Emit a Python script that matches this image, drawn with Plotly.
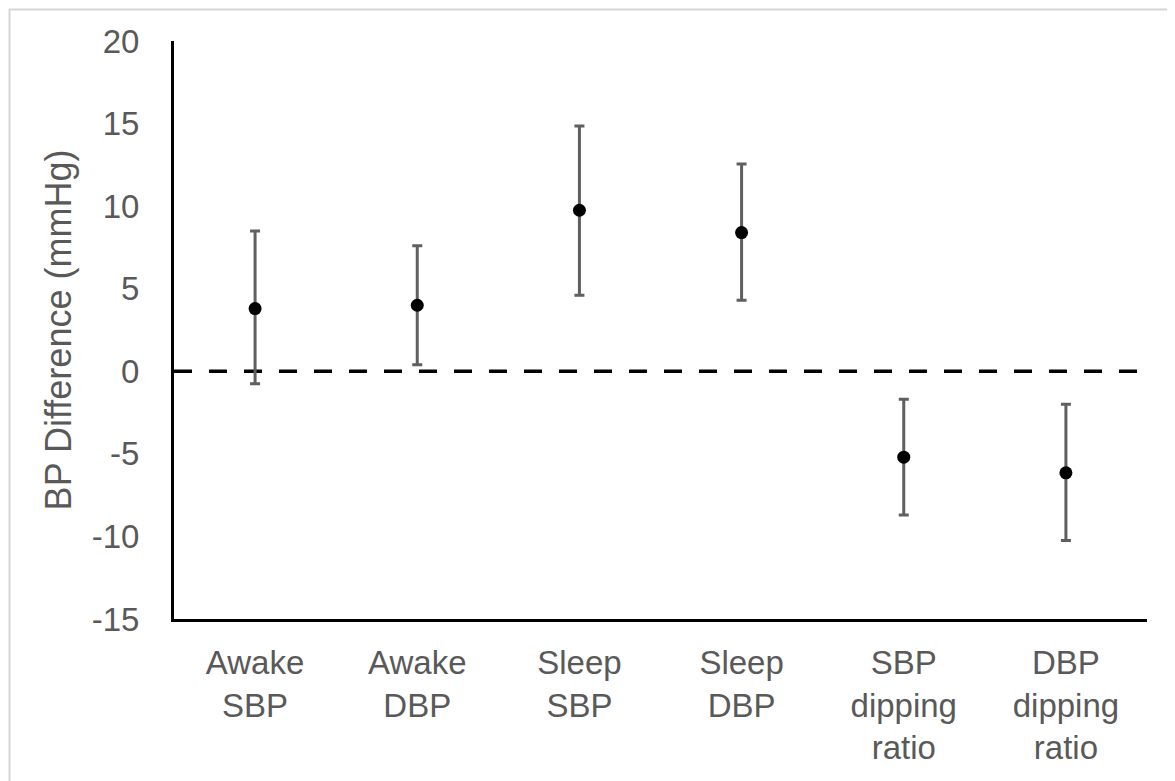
import plotly.graph_objects as go

categories = ["Awake<br>SBP", "Awake<br>DBP", "Sleep<br>SBP", "Sleep<br>DBP",
              "SBP<br>dipping<br>ratio", "DBP<br>dipping<br>ratio"]
means = [3.8, 4.0, 9.75, 8.4, -5.2, -6.15]
upper = [8.5, 7.6, 14.85, 12.55, -1.7, -2.0]
lower = [-0.75, 0.4, 4.6, 4.3, -8.7, -10.25]
y_ticks = [-15, -10, -5, 0, 5, 10, 15, 20]

err_plus = [u - m for u, m in zip(upper, means)]
err_minus = [m - l for m, l in zip(means, lower)]

text_color = "#595959"
font_family = "Liberation Sans, Arial, sans-serif"

W, H = 1167, 773
L, T, PW, PH = 166, 33, 973, 578

fig = go.Figure()
fig.add_trace(go.Scatter(
    x=categories, y=means, mode="markers",
    marker=dict(color="black", size=13),
    error_y=dict(type="data", symmetric=False, array=err_plus, arrayminus=err_minus,
                 color="#5f5f5f", thickness=3, width=5),
    showlegend=False,
))

fig.add_shape(type="line", xref="paper", yref="y", x0=0, x1=1, y0=0, y1=0,
              line=dict(color="black", width=3.5, dash="18px,17px"), layer="below")

# light gray outer frame (left, top, right edges)
fx0 = (1.5 - L) / PW
fx1 = (1162 - L) / PW
fy1 = (T + PH - 1.5) / PH
fy0 = (T + PH - H - 5) / PH
fig.add_shape(type="rect", xref="paper", yref="paper",
              x0=fx0, x1=fx1, y0=fy0, y1=fy1,
              line=dict(color="#d6d6d6", width=2), fillcolor="rgba(0,0,0,0)")

fig.update_layout(
    width=W, height=H,
    margin=dict(l=L, r=W - L - PW, t=T, b=H - T - PH),
    plot_bgcolor="white", paper_bgcolor="white",
    font=dict(family=font_family, color=text_color, size=33),
    xaxis=dict(
        type="category", range=[-0.5, 5.5],
        showline=True, linecolor="black", linewidth=3,
        showgrid=False, zeroline=False, ticks="",
        tickfont=dict(size=33, color=text_color),
        ticklabelstandoff=12,
    ),
    yaxis=dict(
        range=[-15, 20], tickvals=y_ticks, ticktext=[str(v) for v in y_ticks],
        showline=True, linecolor="black", linewidth=3,
        showgrid=False, zeroline=False, ticks="",
        tickfont=dict(size=33, color=text_color),
        ticklabelstandoff=25,
        title=dict(text="BP Difference (mmHg)", font=dict(size=36, color=text_color), standoff=10),
    ),
)

fig.write_html("out.html")
